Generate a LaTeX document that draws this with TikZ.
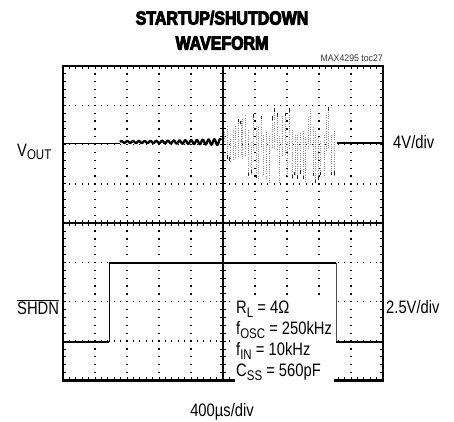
\documentclass[tikz,border=0pt]{standalone}
\usepackage{fontspec}
\setmainfont{Liberation Sans}[FakeStretch=0.82]
\newfontfamily\titlefont{Liberation Sans}[FakeStretch=0.84]
\newfontfamily\notefont{Liberation Sans}[FakeStretch=0.92]
\newcommand\lsub[1]{\raisebox{-0.22em}{\fontsize{14}{14}\selectfont #1}}
\newcommand\heavytext[1]{\special{pdf:literal direct 2 Tr 0.9 w}#1\special{pdf:literal direct 0 Tr 1 w}}
\tikzset{
  lbl/.style={inner sep=0pt, font=\fontsize{18}{21.2}\selectfont},
  gdot/.style={fill=black},
  tick/.style={line width=0.9pt},
  trace/.style={line width=2.3pt, line join=round},
  edge/.style={line width=0.9pt},
  burst/.style={black!45, line width=0.7pt, dash pattern=on 0.8pt off 1.4pt},
  peak/.style={black!85, line width=0.9pt},
}
\begin{document}
\begin{tikzpicture}[x=1pt,y=-1pt]
\useasboundingbox (0,0) rectangle (454,421);
% grid dots
\foreach \i in {1,2,3,4,6,7,8,9}{
  \foreach \k in {1,...,39}{
    \fill[gdot] ({63+\i*32-0.65},{66+\k*7.86-0.65}) rectangle ++(1.3,1.3);
  }
}
\foreach \j in {1,2,3,5,6,7}{
  \foreach \k in {1,...,49}{
    \fill[gdot] ({63+\k*6.4-0.65},{66+\j*39.3-0.65}) rectangle ++(1.3,1.3);
  }
}
% frame ticks
\foreach \k in {1,...,49}{
  \draw[tick] ({63+\k*6.4},66) -- ++(0,3.2);
  \draw[tick] ({63+\k*6.4},380.4) -- ++(0,-3.2);
  \draw[tick] ({63+\k*6.4},220) -- ++(0,6.4);
}
\foreach \k in {1,...,39}{
  \draw[tick] (63,{66+\k*7.86}) -- ++(3.2,0);
  \draw[tick] (383,{66+\k*7.86}) -- ++(-3.2,0);
  \draw[tick] (219.8,{66+\k*7.86}) -- ++(6.4,0);
}
% centre lines
\draw[line width=1.6pt] (63,223.2) -- (383,223.2);
\draw[line width=1.6pt] (223,66) -- (223,380.4);
% frame
\draw[line width=2.4pt] (63,66) rectangle (383,380.4);

% V_OUT trace
\draw[line width=1.8pt] (63,143.5) -- (120,143.5);
\draw[trace] plot[domain=120:221, samples=220] (\x, {142 - (0.9+2.2*((\x-120)/101)^2)*sin((\x-120)*62)});
\pgfmathsetseed{4295}
\foreach \i in {0,...,42}{
  \pgfmathsetmacro\xx{224.5+2.6*\i+0.8*rnd}
  \pgfmathsetmacro\A{min(36,12+0.9*(\xx-224))}
  \pgfmathsetmacro\B{min(41,13+1.0*(\xx-224))}
  \pgfmathsetmacro\t{143-\A*(0.72+0.28*rnd)}
  \pgfmathsetmacro\b{143+\B*(0.74+0.26*rnd)}
  \pgfmathsetmacro\m{143+18*rnd-9}
  \pgfmathsetmacro\up{rnd}
  \pgfmathsetmacro\pk{rnd}
  \ifdim\up pt<0.5pt
    \draw[burst] (\xx,\t) -- (\xx,{\m+8});
    \ifdim\pk pt<0.6pt \draw[peak] (\xx,\t) -- (\xx,{\t+3.5}); \fi
  \else
    \draw[burst] (\xx,{\m-8}) -- (\xx,\b);
    \ifdim\pk pt<0.6pt \draw[peak] (\xx,\b) -- (\xx,{\b-3.5}); \fi
  \fi
}
\draw[trace] (337,143) -- (383,143);

% SHDN trace
\draw[trace] (63,342) -- (109.3,342);
\draw[edge] (109.3,342) -- (109.3,263);
\draw[trace] (109.3,263) -- (336,263);
\draw[edge, black!70] (336,263) -- (336,342);
\draw[trace] (336,342) -- (383,342);

% labels
\node[lbl, anchor=south, font=\titlefont\bfseries\fontsize{19}{25}\selectfont, align=center] (title) at (222,50) {\heavytext{STARTUP/SHUTDOWN}\\\heavytext{WAVEFORM}};
\node[inner sep=0pt, anchor=south east, font=\notefont\fontsize{9.5}{10}\selectfont, text=black!80] (toc) at (383,61.5) {MAX4295 toc27};
\node[lbl, anchor=base west] (vout) at (17,156) {V\lsub{OUT}};
\node[lbl, anchor=base west] (vdiv) at (393,148) {4V/div};
\node[lbl, anchor=base west] (shdn) at (17,314) {$\overline{\mbox{SHDN}}$};
\node[lbl, anchor=base west] (sdiv) at (386,313) {2.5V/div};
\node[lbl, anchor=base] (tdiv) at (222,416) {400µs/div};
\node[lbl, anchor=north west, fill=white, inner xsep=1.5pt, inner ysep=1.5pt, align=left] (cond) at (234.5,299)
  {R\lsub{L} = 4Ω\\ f\lsub{OSC} = 250kHz\\ f\lsub{IN} = 10kHz\\ C\lsub{SS} = 560pF};
\end{tikzpicture}
\end{document}
